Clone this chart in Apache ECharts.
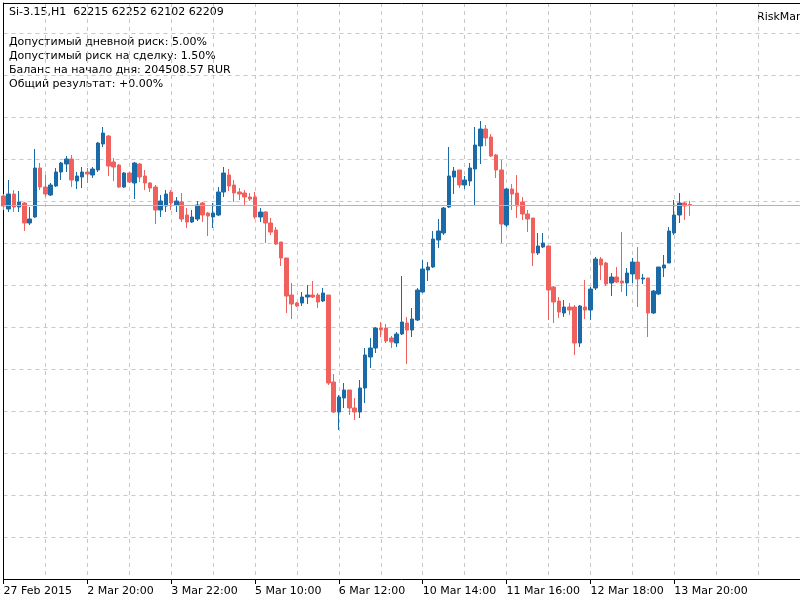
<!DOCTYPE html>
<html>
<head>
<meta charset="utf-8">
<script src="https://cdn.jsdelivr.net/npm/echarts@6/dist/echarts.min.js"></script>
<style>
html, body { margin: 0; padding: 0; background: #fff; overflow: hidden; }
#chart { width: 800px; height: 600px; }
</style>
</head>
<body>
<div id="chart"></div>
<script>
// Si-3.15, H1 — bars from 27 Feb 2015 18:00 to 13 Mar 2015 23:00
var barCount = 132;
var slotCount = 153; // empty space to the right
var tickLabels = ['27 Feb 2015', '2 Mar 20:00', '3 Mar 22:00', '5 Mar 10:00', '6 Mar 12:00',
	'10 Mar 14:00', '11 Mar 16:00', '12 Mar 18:00', '13 Mar 20:00'];
var headerText = 'Si-3.15,H1  62215 62252 62102 62209';
var infoLines = [
	'Допустимый дневной риск: 5.00%',
	'Допустимый риск на сделку: 1.50%',
	'Баланс на начало дня: 204508.57 RUR',
	'Общий результат: +0.00%'
];
var bidPrice = 62209;

// open, high, low, close
var opens = [62300,62170,62320,62190,62230,62030,62090,62580,62390,62310,
	62400,62540,62620,62670,62450,62490,62540,62510,62560,62820,
	62900,62640,62610,62390,62530,62430,62620,62500,62430,62390,
	62160,62200,62340,62210,62240,62110,62040,62070,62230,62130,
	62090,62110,62340,62510,62410,62340,62330,62290,62290,62090,
	62140,62030,61960,61840,61680,61310,61230,61230,61290,61310,
	61310,61250,61310,60440,60140,60280,60360,60180,60140,60380,
	60690,60780,60980,60980,60880,60830,60920,61030,60960,61060,
	61340,61560,61590,61860,61930,62190,62490,62560,62410,62450,
	62570,62800,62970,62890,62710,62560,62010,62370,62330,62240,
	62120,62080,61730,61790,61800,61390,61250,61130,61190,61190,
	60830,61190,61160,61380,61670,61630,61430,61490,61450,61430,
	61520,61640,61470,61480,61130,61320,61580,61630,61930,62110,
	62230,62215];
var highs = [62320,62460,62360,62350,62240,62190,62770,62630,62510,62430,
	62580,62640,62700,62710,62540,62590,62580,62590,62840,62990,
	62910,62680,62620,62540,62540,62640,62630,62560,62440,62410,
	62310,62360,62360,62290,62330,62180,62160,62250,62240,62140,
	62230,62390,62590,62570,62460,62380,62360,62330,62340,62180,
	62150,62080,61990,61840,61680,61430,61240,61340,61410,61450,
	61330,61380,61310,60520,60310,60430,60360,60280,60460,60780,
	60880,60990,61040,61020,60900,60940,61500,61090,61180,61380,
	61660,61640,61950,62070,62190,62790,62590,62560,62500,62630,
	62990,63050,63010,62920,62720,62660,62380,62420,62510,62290,
	62160,62080,61930,61930,61800,61400,61290,61260,61230,61210,
	61210,61460,61390,61690,61690,61640,61530,61590,61940,61580,
	61680,61790,61520,61480,61360,61590,61710,61990,62260,62330,
	62240,62252];
var lows = [62160,62140,62140,62140,61950,62010,62080,62360,62290,62300,
	62390,62460,62540,62390,62370,62380,62430,62480,62540,62790,
	62500,62450,62380,62380,62430,62270,62440,62360,62340,62020,
	62090,62140,62160,62140,62040,61980,62030,62050,62040,61900,
	61980,62100,62290,62350,62240,62260,62210,62250,62070,62040,
	61830,61910,61810,61600,61130,61070,61190,61200,61220,61280,
	61180,61240,60410,60130,59960,60180,60110,60060,60080,60230,
	60580,60730,60890,60830,60780,60790,60910,60620,60890,61050,
	61330,61450,61580,61780,61910,62180,62320,62380,62370,62400,
	62200,62620,62800,62690,62480,61830,61990,62160,62080,62060,
	61940,61600,61710,61780,61060,61030,61080,61090,61110,60710,
	60790,61070,61060,61360,61460,61400,61300,61430,61340,61300,
	61430,61190,61420,60890,61120,61310,61490,61630,61910,62030,
	62060,62102];
var closes = [62200,62320,62190,62240,62030,62070,62580,62390,62320,62410,
	62540,62630,62670,62460,62500,62540,62520,62570,62830,62930,
	62600,62590,62390,62530,62440,62630,62490,62430,62380,62160,
	62250,62320,62230,62250,62070,62040,62090,62210,62110,62100,
	62130,62340,62530,62400,62330,62320,62290,62270,62090,62140,
	62030,61940,61820,61680,61300,61220,61200,61290,61310,61290,
	61240,61330,60430,60140,60290,60360,60180,60140,60380,60710,
	60780,60980,60960,60850,60840,60920,61040,60960,61070,61360,
	61570,61590,61870,61950,62180,62500,62550,62410,62460,62580,
	62810,62970,62880,62700,62560,62020,62370,62320,62200,62120,
	62070,61730,61800,61830,61360,61240,61140,61190,61160,60830,
	61200,61160,61370,61670,61610,61420,61490,61440,61430,61530,
	61640,61470,61480,61130,61350,61590,61610,61950,62110,62230,
	62200,62209];

var categories = [];
for (var i = 0; i < slotCount; i++) {
	categories.push(String(i));
}
var candles = [];
for (var j = 0; j < barCount; j++) {
	candles.push([opens[j], closes[j], lows[j], highs[j]]);
}

function isLabelSlot(index) {
	return index % 16 === 0 && index / 16 < tickLabels.length;
}

var chart = echarts.init(document.getElementById('chart'));
var fontName = 'DejaVu Sans';
var gridLine = { color: '#c8c8c8', type: [4, 4], width: 1 };

var textItems = [{
	type: 'text', left: 9, top: 7,
	style: { text: headerText, font: '11px ' + fontName, fill: '#000' }
}, {
	type: 'text', left: 757, top: 12,
	style: { text: 'RiskManager', font: '11px ' + fontName, fill: '#000' }
}];
for (var k = 0; k < infoLines.length; k++) {
	textItems.push({
		type: 'text', left: 9, top: 37 + k * 14,
		style: { text: infoLines[k], font: '11px ' + fontName, fill: '#000' }
	});
}

chart.setOption({
	animation: false,
	backgroundColor: '#ffffff',
	grid: {
		left: 3.5,
		top: 3,
		right: 0,
		bottom: 21
	},
	xAxis: [{
		type: 'category',
		data: categories,
		boundaryGap: false,
		axisLine: { show: true, lineStyle: { color: '#000', width: 1 } },
		axisTick: {
			show: true,
			interval: function(index) { return isLabelSlot(index); },
			length: 5,
			lineStyle: { color: '#000' }
		},
		axisLabel: {
			interval: function(index) { return isLabelSlot(index); },
			align: 'left',
			margin: 7,
			fontFamily: fontName,
			fontSize: 11,
			color: '#000',
			formatter: function(value, index) {
				return tickLabels[index / 16] || '';
			}
		},
		splitLine: { show: true, interval: 7, lineStyle: gridLine }
	}, {
		// top frame line only
		type: 'category',
		data: categories,
		boundaryGap: false,
		position: 'top',
		axisLine: { show: true, lineStyle: { color: '#000', width: 1 } },
		axisTick: { show: false },
		axisLabel: { show: false },
		splitLine: { show: false }
	}],
	yAxis: {
		type: 'value',
		min: 58470,
		max: 64230,
		interval: 420,
		axisLine: { show: true, lineStyle: { color: '#000', width: 1 } },
		axisTick: { show: false },
		axisLabel: { show: false },
		splitLine: { show: true, lineStyle: gridLine }
	},
	series: [{
		type: 'candlestick',
		xAxisIndex: 0,
		data: candles,
		barWidth: 4,
		itemStyle: {
			color: '#1a6aa8',
			color0: '#f0605d',
			borderColor: '#1a6aa8',
			borderColor0: '#f0605d',
			borderWidth: 1
		},
		markLine: {
			silent: true,
			symbol: ['none', 'none'],
			label: { show: false },
			lineStyle: { color: '#b4b4b4', type: 'solid', width: 1 },
			data: [{ yAxis: bidPrice }]
		}
	}],
	graphic: textItems
});
</script>
</body>
</html>
